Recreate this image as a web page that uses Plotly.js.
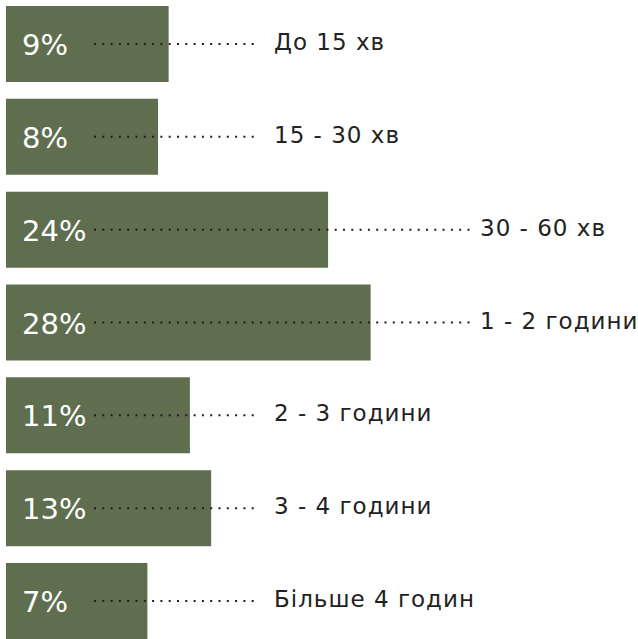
<!DOCTYPE html>
<html><head><meta charset="utf-8">
<script src="https://cdn.plot.ly/plotly-3.0.1.min.js"></script>
<style>html,body{margin:0;padding:0;background:#fff}</style>
</head><body><div id="chart" style="width:638px;height:639px"></div>
<script>
// Data
const categories = ['До 15 хв', '15 - 30 хв', '30 - 60 хв', '1 - 2 години', '2 - 3 години', '3 - 4 години', 'Більше 4 годин'];
const values = [9, 8, 24, 28, 11, 13, 7];
const percentLabels = values.map(v => v + '%');

// Layout constants
const W = 638, H = 639;
const BASE = -6.3;          // bars start slightly left of zero (visual offset)
const PX_PER = 10.63;       // pixels per percent
const LEFT_PX = 6;          // pixel position of bar start
const xmin = BASE - LEFT_PX / PX_PER;
const xmax = xmin + W / PX_PER;
const NEAR_LABEL_PX = 273, FAR_LABEL_PX = 479;
const LEADER_START_PX = 94;
const barColor = '#5f6e4f';
const FONT = '"DejaVu Sans", sans-serif';

const barEndPx = v => LEFT_PX + (v - BASE) * PX_PER;

const shapes = [];
const annotations = [];
categories.forEach((c, i) => {
  const v = values[i];
  const far = barEndPx(v) + 10 > NEAR_LABEL_PX;
  const labelPx = far ? FAR_LABEL_PX : NEAR_LABEL_PX;
  const leaderEnd = far ? labelPx - 8 : labelPx - 16;
  shapes.push({
    type: 'line', xref: 'x', yref: 'y', xsizemode: 'pixel', xanchor: BASE,
    x0: LEADER_START_PX - LEFT_PX, x1: leaderEnd - LEFT_PX, y0: c, y1: c,
    line: {color: '#1e1e1e', width: 2, dash: '2px,6.3px'}
  });
  annotations.push({
    x: BASE, y: c, xref: 'x', yref: 'y', xanchor: 'left', yanchor: 'middle', align: 'left',
    xshift: 14, yshift: -1, showarrow: false, text: percentLabels[i],
    font: {family: FONT, size: 29, color: '#ffffff'}
  });
  annotations.push({
    x: BASE, y: c, xref: 'x', yref: 'y', xanchor: 'left', yanchor: 'middle', align: 'left',
    xshift: labelPx - LEFT_PX - 1, yshift: 2, showarrow: false,
    text: '<span style="letter-spacing:1px">' + c + '</span>',
    font: {family: FONT, size: 23, color: '#222222'}
  });
});

const trace = {
  type: 'bar', orientation: 'h', y: categories, x: values.map(v => v - BASE), base: BASE,
  marker: {color: barColor, line: {width: 0}}, hoverinfo: 'skip', textposition: 'none'
};

const layout = {
  width: W, height: H, margin: {l: 0, r: 0, t: 0, b: 0},
  paper_bgcolor: '#ffffff', plot_bgcolor: '#ffffff',
  showlegend: false, bargap: 0.181,
  xaxis: {range: [xmin, xmax], visible: false, fixedrange: true},
  yaxis: {type: 'category', range: [6.409, -0.474], visible: false, fixedrange: true},
  shapes: shapes, annotations: annotations
};

Plotly.newPlot('chart', [trace], layout, {displayModeBar: false, staticPlot: true});
</script></body></html>
